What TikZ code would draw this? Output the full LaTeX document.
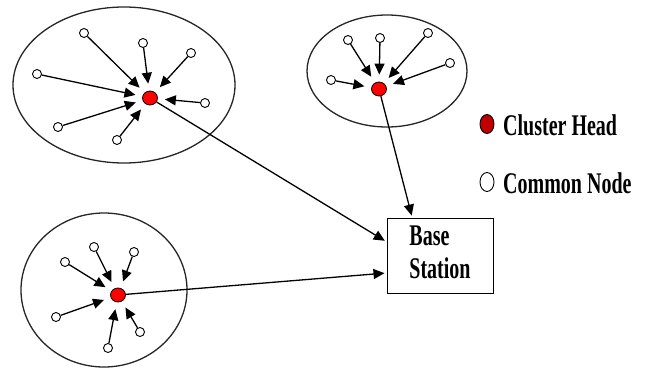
\documentclass[tikz,border=0pt]{standalone}
\usepackage{fontspec}
\usepackage{graphicx}
\setmainfont{Liberation Serif}
\usetikzlibrary{shapes.geometric,arrows.meta,calc}
\definecolor{legred}{HTML}{C00000}
\begin{document}
\begin{tikzpicture}[x=1pt,y=-1pt,
  ell/.style={ellipse, draw=black!85, line width=1.3pt, inner sep=0},
  cn/.style={circle, draw, line width=0.9pt, fill=white, minimum size=9pt, inner sep=0},
  chd/.style={ellipse, draw, line width=0.8pt, fill=red, minimum width=15pt, minimum height=14pt, inner sep=0},
  arr/.style={line width=1.3pt, -{Triangle[length=11pt,width=10pt]}, shorten >=7pt},
  bsarr/.style={line width=1.3pt, -{Triangle[length=11pt,width=10pt]}, shorten >=2pt},
  lbl/.style={anchor=west, inner sep=0, font=\fontsize{20}{22}\selectfont\bfseries}
]
\useasboundingbox (0,0) rectangle (645,370);
% cluster ellipses
\node[ell, minimum width=222pt, minimum height=156pt] (e1) at (124,85) {};
\node[ell, minimum width=160pt, minimum height=112pt] (e2) at (387,71) {};
\node[ell, minimum width=166pt, minimum height=154pt] (e3) at (104,290) {};
% cluster heads
\node[chd] (ch1) at (150,98) {};
\node[chd] (ch2) at (379,89) {};
\node[chd] (ch3) at (118,295) {};
% cluster 1 common nodes
\node[cn] (a1) at (84,33) {};
\node[cn] (a2) at (143,43) {};
\node[cn] (a3) at (191,53) {};
\node[cn] (a4) at (37,74) {};
\node[cn] (a5) at (205,103) {};
\node[cn] (a6) at (58,127) {};
\node[cn] (a7) at (117,140) {};
\foreach \n in {a1,a2,a3,a4,a5,a6,a7} \draw[arr] (\n) -- (ch1);
% cluster 2 common nodes
\node[cn] (b1) at (348,40) {};
\node[cn] (b2) at (380,38) {};
\node[cn] (b3) at (428,33) {};
\node[cn] (b4) at (450,63) {};
\node[cn] (b5) at (331,80) {};
\foreach \n in {b1,b2,b3,b4,b5} \draw[arr] (\n) -- (ch2);
% cluster 3 common nodes
\node[cn] (c1) at (65,262) {};
\node[cn] (c2) at (94,247) {};
\node[cn] (c3) at (134,252) {};
\node[cn] (c4) at (56,317) {};
\node[cn] (c5) at (108,348) {};
\node[cn] (c6) at (140,332) {};
\foreach \n in {c1,c2,c3,c4,c5,c6} \draw[arr] (\n) -- (ch3);
% base station
\node[draw, line width=1pt, minimum width=106pt, minimum height=75pt, inner sep=0,
      font=\fontsize{20}{22}\selectfont\bfseries] (bs) at (440,255.5)
  {\scalebox{1}[1.5]{\begin{tabular}{@{}l@{}}Base\\Station\end{tabular}}};
\draw[bsarr] (ch1) -- ($(bs.north west)!0.32!(bs.south west)$);
\draw[bsarr] (ch3) -- ($(bs.north west)!0.73!(bs.south west)$);
\draw[bsarr] (ch2) -- ($(bs.north west)!0.24!(bs.north east)$);
% legend
\node[ellipse, draw, line width=0.9pt, fill=legred, minimum width=14pt, minimum height=19pt, inner sep=0] (lch) at (487,124) {};
\node[ellipse, draw, line width=0.9pt, fill=white, minimum width=14pt, minimum height=19pt, inner sep=0] (lcn) at (487,182) {};
\node[lbl] (tch) at (503,125) {\scalebox{1}[1.5]{Cluster Head}};
\node[lbl] (tcn) at (503,183) {\scalebox{1}[1.5]{Common Node}};
\end{tikzpicture}
\end{document}
